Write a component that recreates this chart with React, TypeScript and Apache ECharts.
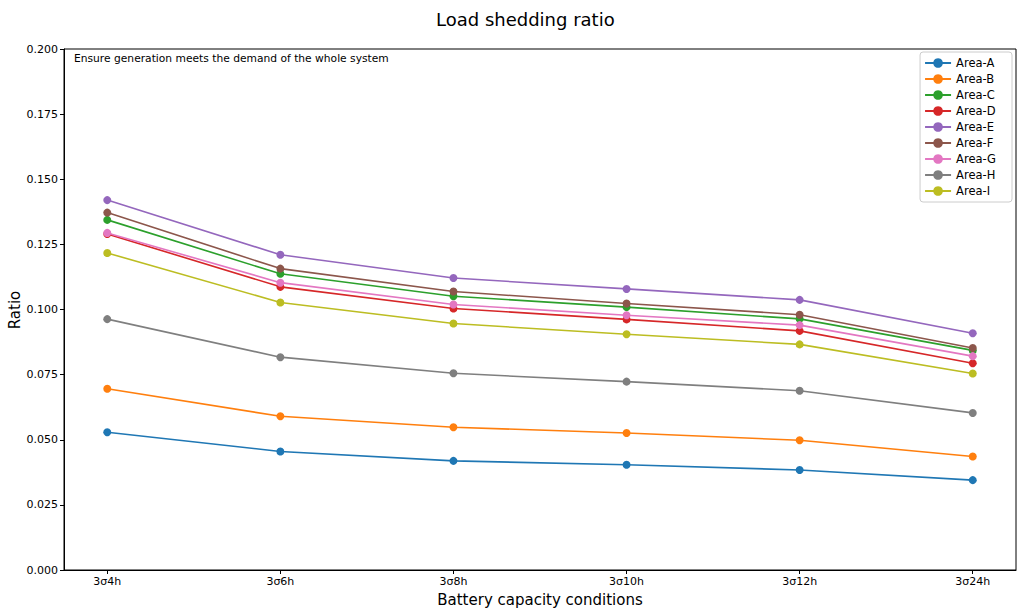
import { useEffect, useRef } from 'react'
import * as echarts from 'echarts'

// battery capacity conditions (x axis)
const conditions = ['3σ4h', '3σ6h', '3σ8h', '3σ10h', '3σ12h', '3σ24h']

const areaNames = ['Area-A', 'Area-B', 'Area-C', 'Area-D', 'Area-E', 'Area-F', 'Area-G', 'Area-H', 'Area-I']

// load shedding ratio per area
const areaA = [0.0529, 0.0455, 0.0419, 0.0404, 0.0384, 0.0345]
const areaB = [0.0696, 0.0590, 0.0548, 0.0526, 0.0498, 0.0436]
const areaC = [0.1344, 0.1137, 0.1051, 0.1009, 0.0964, 0.0843]
const areaD = [0.1290, 0.1087, 0.1004, 0.0962, 0.0918, 0.0794]
const areaE = [0.1420, 0.1210, 0.1121, 0.1079, 0.1037, 0.0909]
const areaF = [0.1372, 0.1157, 0.1069, 0.1023, 0.0980, 0.0852]
const areaG = [0.1294, 0.1103, 0.1019, 0.0978, 0.0940, 0.0821]
const areaH = [0.0963, 0.0817, 0.0755, 0.0723, 0.0688, 0.0603]
const areaI = [0.1217, 0.1027, 0.0946, 0.0905, 0.0866, 0.0754]

const areaValues = [areaA, areaB, areaC, areaD, areaE, areaF, areaG, areaH, areaI]

const colors = ['#1f77b4', '#ff7f0e', '#2ca02c', '#d62728', '#9467bd', '#8c564b', '#e377c2', '#7f7f7f', '#bcbd22']

const yTicks = [0, 0.025, 0.05, 0.075, 0.1, 0.125, 0.15, 0.175, 0.2]

const FONT = "'DejaVu Sans', sans-serif"

export default function App() {
  const chartRef = useRef<HTMLDivElement>(null)

  useEffect(() => {
    if (!chartRef.current) return
    const chart = echarts.init(chartRef.current, undefined, { renderer: 'svg' })

    const option = {
      animation: false,
      color: colors,
      textStyle: { fontFamily: FONT },
      title: {
        text: 'Load shedding ratio',
        left: 431,
        top: 5,
        textStyle: { fontFamily: FONT, fontSize: 18, fontWeight: 'normal', color: '#000' }
      },
      grid: {
        left: 64,
        right: 8,
        top: 49,
        bottom: 45,
        outerBoundsMode: 'none',
        containLabel: false,
        show: true,
        borderColor: '#000',
        borderWidth: 1
      },
      legend: {
        orient: 'vertical',
        right: 12,
        top: 52,
        data: areaNames,
        itemWidth: 26,
        itemHeight: 12,
        itemGap: 4,
        padding: [5, 16, 5, 4],
        borderColor: '#cccccc',
        borderWidth: 1,
        borderRadius: 3,
        backgroundColor: '#fff',
        textStyle: { fontFamily: FONT, fontSize: 11.5, color: '#000', padding: [0, 0, 0, 0] }
      },
      xAxis: {
        type: 'value',
        min: -0.25,
        max: 5.25,
        name: 'Battery capacity conditions',
        nameLocation: 'middle',
        nameGap: 22,
        nameTextStyle: { fontFamily: FONT, fontSize: 15, color: '#000' },
        axisLine: { show: true, onZero: false, lineStyle: { color: '#000' } },
        axisTick: { show: true, length: 4, customValues: conditions.map((_, i) => i), lineStyle: { color: '#000' } },
        axisLabel: {
          customValues: conditions.map((_, i) => i),
          formatter: (v: number) => conditions[Math.round(v)] ?? '',
          fontFamily: FONT,
          fontSize: 11,
          color: '#000',
          margin: 6
        },
        splitLine: { show: false }
      },
      yAxis: {
        type: 'value',
        min: 0,
        max: 0.2,
        interval: 0.025,
        axisLine: { show: true, onZero: false, lineStyle: { color: '#000' } },
        axisTick: { show: true, length: 4, lineStyle: { color: '#000' } },
        axisLabel: {
          formatter: (v: number) => (yTicks.some(t => Math.abs(t - v) < 1e-9) ? v.toFixed(3) : ''),
          fontFamily: FONT,
          fontSize: 11,
          color: '#000',
          margin: 6
        },
        splitLine: { show: false }
      },
      graphic: [
        {
          type: 'text',
          left: 74,
          top: 53,
          style: {
            text: 'Ensure generation meets the demand of the whole system',
            fontFamily: FONT,
            fontSize: 10.7,
            fill: '#000'
          }
        },
        {
          type: 'text',
          x: 15,
          y: 310,
          rotation: Math.PI / 2,
          style: {
            text: 'Ratio',
            fontFamily: FONT,
            fontSize: 15,
            fill: '#000',
            align: 'center',
            verticalAlign: 'middle'
          }
        }
      ],
      series: areaNames.map((name, k) => ({
        name,
        type: 'line',
        data: areaValues[k].map((v, i) => [i, v]),
        symbol: 'circle',
        symbolSize: 8,
        lineStyle: { width: 1.6, color: colors[k] },
        itemStyle: { color: colors[k] },
        emphasis: { disabled: true }
      }))
    }

    chart.setOption(option)
    return () => {
      chart.dispose()
    }
  }, [])

  return (
    <div
      ref={chartRef}
      style={{ position: 'absolute', left: 0, top: 0, width: 1024, height: 615, background: '#fff' }}
    />
  )
}
